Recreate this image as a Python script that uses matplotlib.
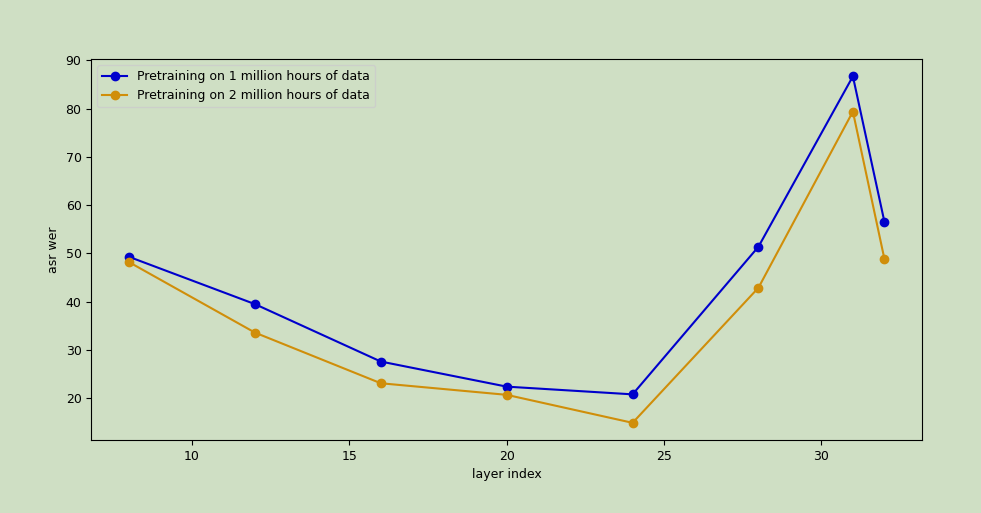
import matplotlib.pyplot as plt

layers = [8, 12, 16, 20, 24, 28, 31, 32]
wer_1m = [49.3, 39.5, 27.6, 22.4, 20.8, 51.4, 86.7, 56.6]
wer_2m = [48.2, 33.6, 23.1, 20.7, 14.9, 42.9, 79.4, 48.9]

plt.rcParams["font.size"] = 9

bg = "#cfdfc4"
fig = plt.figure(figsize=(9.81, 5.13), dpi=100, facecolor=bg)
ax = fig.add_axes([0.093, 0.142, 0.847, 0.743], facecolor=bg)

ax.plot(layers, wer_1m, "-o", color="#0000cc", label="Pretraining on 1 million hours of data")
ax.plot(layers, wer_2m, "-o", color="#d08e0a", label="Pretraining on 2 million hours of data")

ax.set_xlabel("layer index")
ax.set_ylabel("asr wer")
ax.legend(loc="upper left", facecolor=bg)

fig.savefig("out.png", dpi=100, facecolor=bg)
